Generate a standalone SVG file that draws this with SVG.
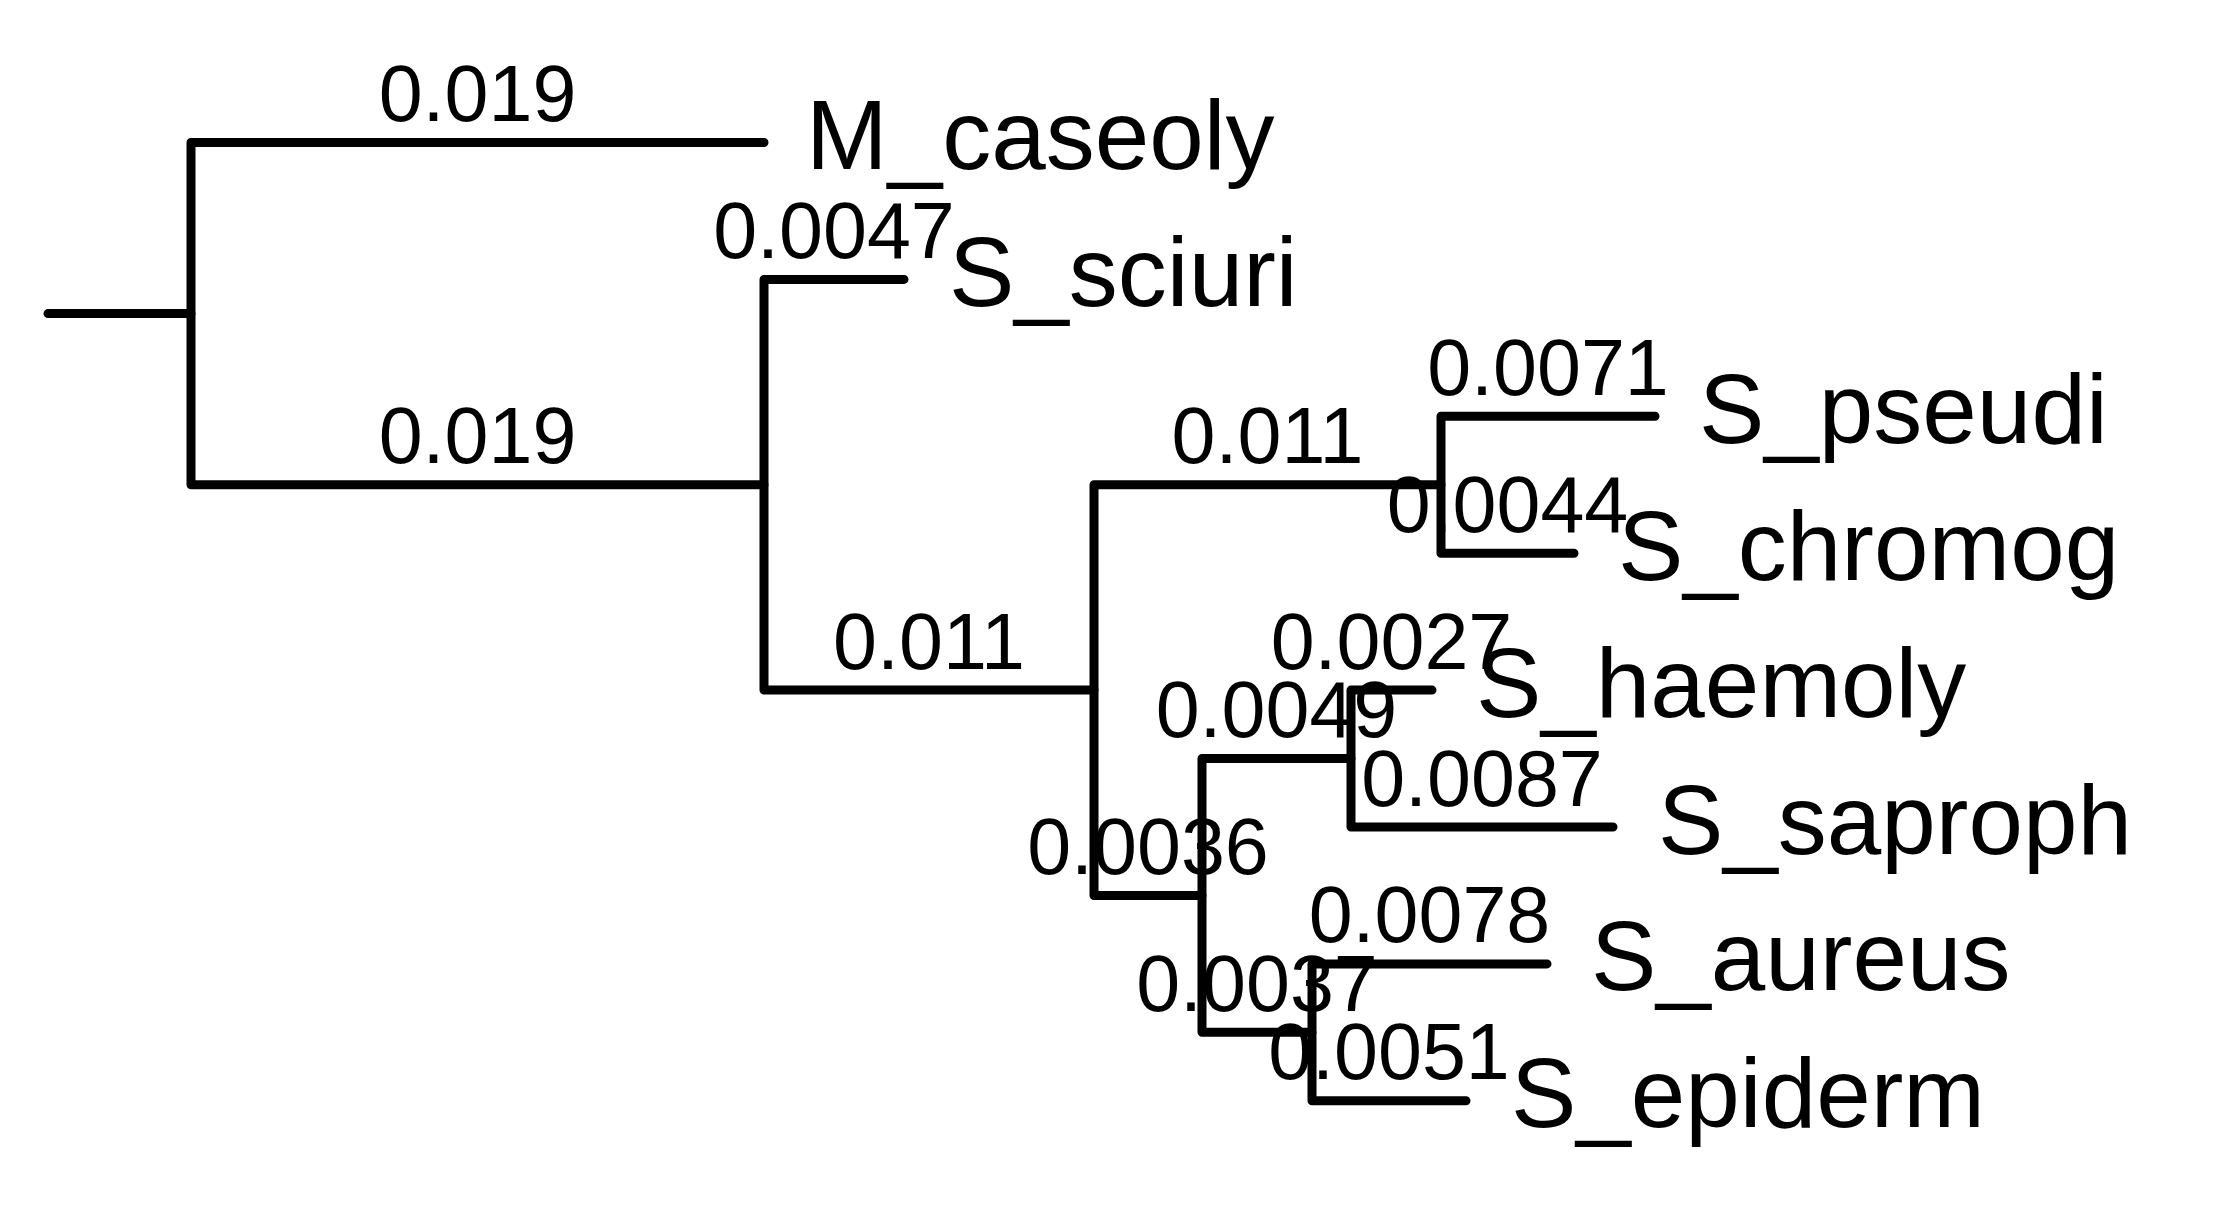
<svg xmlns="http://www.w3.org/2000/svg" width="2224" height="1216" viewBox="0 0 2224 1216">
<style>
.br{fill:none;stroke:#000;stroke-width:9;stroke-linecap:round;stroke-linejoin:round}
.tip{font-family:"Liberation Sans",Arial,sans-serif;font-size:98px;fill:#000}
.len{font-family:"Liberation Sans",Arial,sans-serif;font-size:79px;fill:#000;text-anchor:middle}
</style>
<rect width="2224" height="1216" fill="#fff"/>
<g id="connectors">
<path class="br" d="M48 313.6H191"/>
<path class="br" d="M764 142.5H191V484.75H764"/>
<path class="br" d="M904 279.4H764V690.1H1094"/>
<path class="br" d="M1441 484.75H1094V895.45H1202"/>
<path class="br" d="M1655 416.3H1441V553.2H1574"/>
<path class="br" d="M1351 758.55H1202V1032.35H1312"/>
<path class="br" d="M1432 690.1H1351V827H1613"/>
<path class="br" d="M1547 963.9H1312V1100.8H1466"/>
</g>
<g id="branch-labels">
<text class="len" x="477.5" y="121">0.019</text>
<text class="len" x="477.5" y="463.25">0.019</text>
<text class="len" x="834" y="257.9">0.0047</text>
<text class="len" x="929" y="668.6">0.011</text>
<text class="len" x="1267.5" y="463.25">0.011</text>
<text class="len" x="1548" y="394.8">0.0071</text>
<text class="len" x="1507.5" y="531.7">0.0044</text>
<text class="len" x="1148" y="873.95">0.0036</text>
<text class="len" x="1276.5" y="737.05">0.0049</text>
<text class="len" x="1391.5" y="668.6">0.0027</text>
<text class="len" x="1482" y="805.5">0.0087</text>
<text class="len" x="1257" y="1010.85">0.0037</text>
<text class="len" x="1429.5" y="942.4">0.0078</text>
<text class="len" x="1389" y="1079.3">0.0051</text>
</g>
<g id="M_caseoly"><text class="tip" x="806" y="169">M_caseoly</text></g>
<g id="S_sciuri"><text class="tip" x="949" y="305.9">S_sciuri</text></g>
<g id="S_pseudi"><text class="tip" x="1699" y="442.8">S_pseudi</text></g>
<g id="S_chromog"><text class="tip" x="1618" y="579.7">S_chromog</text></g>
<g id="S_haemoly"><text class="tip" x="1476" y="716.6">S_haemoly</text></g>
<g id="S_saproph"><text class="tip" x="1658" y="853.5">S_saproph</text></g>
<g id="S_aureus"><text class="tip" x="1591" y="990.4">S_aureus</text></g>
<g id="S_epiderm"><text class="tip" x="1511" y="1127.3">S_epiderm</text></g>
</svg>
